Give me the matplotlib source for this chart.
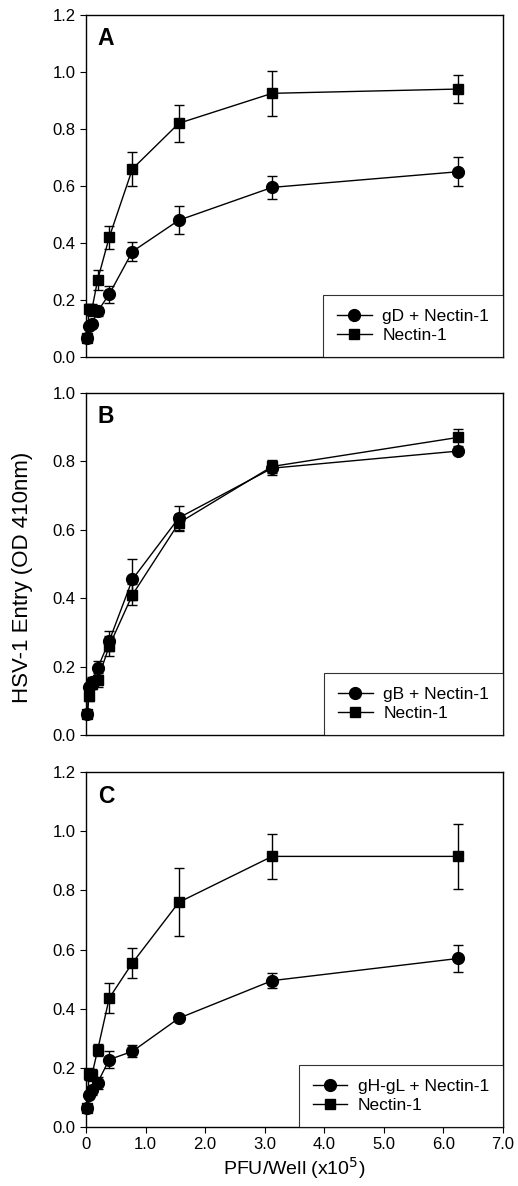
import numpy as np
import matplotlib
matplotlib.use("Agg")
import matplotlib.pyplot as plt

plt.rcParams['font.family'] = ['Liberation Sans', 'DejaVu Sans']

# PFU/well (x10^5), two-fold dilutions
pfu = [0.024, 0.049, 0.098, 0.195, 0.39, 0.78, 1.56, 3.125, 6.25]

# panel A
a_gd = [0.065, 0.11, 0.115, 0.16, 0.22, 0.37, 0.48, 0.595, 0.65]
a_gd_err = [0.01, 0.01, 0.01, 0.015, 0.03, 0.035, 0.05, 0.04, 0.05]
a_nec = [0.065, 0.17, 0.165, 0.27, 0.42, 0.66, 0.82, 0.925, 0.94]
a_nec_err = [0.01, 0.015, 0.02, 0.035, 0.04, 0.06, 0.065, 0.08, 0.05]

# panel B
b_gb = [0.06, 0.14, 0.155, 0.195, 0.275, 0.455, 0.635, 0.78, 0.83]
b_gb_err = [0.01, 0.01, 0.015, 0.02, 0.03, 0.06, 0.035, 0.02, 0.01]
b_nec = [0.06, 0.115, 0.15, 0.16, 0.26, 0.41, 0.62, 0.785, 0.87]
b_nec_err = [0.01, 0.015, 0.015, 0.02, 0.03, 0.03, 0.025, 0.02, 0.025]

# panel C
c_gh = [0.066, 0.11, 0.124, 0.15, 0.228, 0.256, 0.368, 0.495, 0.57]
c_gh_err = [0.01, 0.01, 0.015, 0.02, 0.03, 0.02, 0.01, 0.025, 0.045]
c_nec = [0.065, 0.18, 0.175, 0.26, 0.436, 0.555, 0.76, 0.915, 0.915]
c_nec_err = [0.01, 0.02, 0.02, 0.02, 0.05, 0.05, 0.115, 0.075, 0.11]

panels = [
    ("A", a_gd, a_gd_err, a_nec, a_nec_err, "gD + Nectin-1", 1.2),
    ("B", b_gb, b_gb_err, b_nec, b_nec_err, "gB + Nectin-1", 1.0),
    ("C", c_gh, c_gh_err, c_nec, c_nec_err, "gH-gL + Nectin-1", 1.2),
]

fig = plt.figure(figsize=(5.18, 11.86), dpi=100)
boxes = [
    [0.166, 0.699, 0.805, 0.2884],
    [0.166, 0.3803, 0.805, 0.2884],
    [0.166, 0.0497, 0.805, 0.2993],
]

for i, (letter, c_y, c_err, s_y, s_err, lab, ymax) in enumerate(panels):
    ax = fig.add_axes(boxes[i])
    ax.errorbar(pfu, c_y, yerr=c_err, fmt='none', ecolor='black',
                elinewidth=1, capsize=3.5, clip_on=False)
    ax.errorbar(pfu, s_y, yerr=s_err, fmt='none', ecolor='black',
                elinewidth=1, capsize=3.5, clip_on=False)
    ax.plot(pfu, c_y, color='black', marker='o', ms=8.5, lw=1,
            label=lab, clip_on=False, zorder=3)
    ax.plot(pfu, s_y, color='black', marker='s', ms=7.5, lw=1,
            label='Nectin-1', clip_on=False, zorder=3)
    ax.set_xlim(0, 7)
    ax.set_ylim(0, ymax)
    yt = np.arange(0, ymax + 0.01, 0.2)
    ax.set_yticks(yt)
    ax.set_yticklabels([f"{v:.1f}" for v in yt])
    ax.tick_params(axis='y', direction='out', length=4, labelsize=12)
    if i < 2:
        ax.set_xticks([])
    else:
        ax.set_xticks(range(8))
        ax.set_xticklabels(["0"] + [f"{v:.1f}" for v in range(1, 8)])
        ax.tick_params(axis='x', direction='out', length=4, labelsize=12)
        ax.set_xlabel("PFU/Well (x10$^5$)", fontsize=14, labelpad=2)
    ax.text(0.028, 0.965, letter, transform=ax.transAxes, fontsize=16.5,
            fontweight='bold', va='top', ha='left')
    leg = ax.legend(loc='lower right', borderaxespad=0, fancybox=False,
                    edgecolor='black', fontsize=12.5, handlelength=2.0,
                    borderpad=0.8, labelspacing=0.25, handletextpad=0.6)
    leg.get_frame().set_linewidth(0.8)
    for sp in ax.spines.values():
        sp.set_linewidth(1)

fig.text(0.044, 0.513, "HSV-1 Entry (OD 410nm)", rotation=90, fontsize=16,
         va='center', ha='center')

fig.savefig("out.png", dpi=100)
